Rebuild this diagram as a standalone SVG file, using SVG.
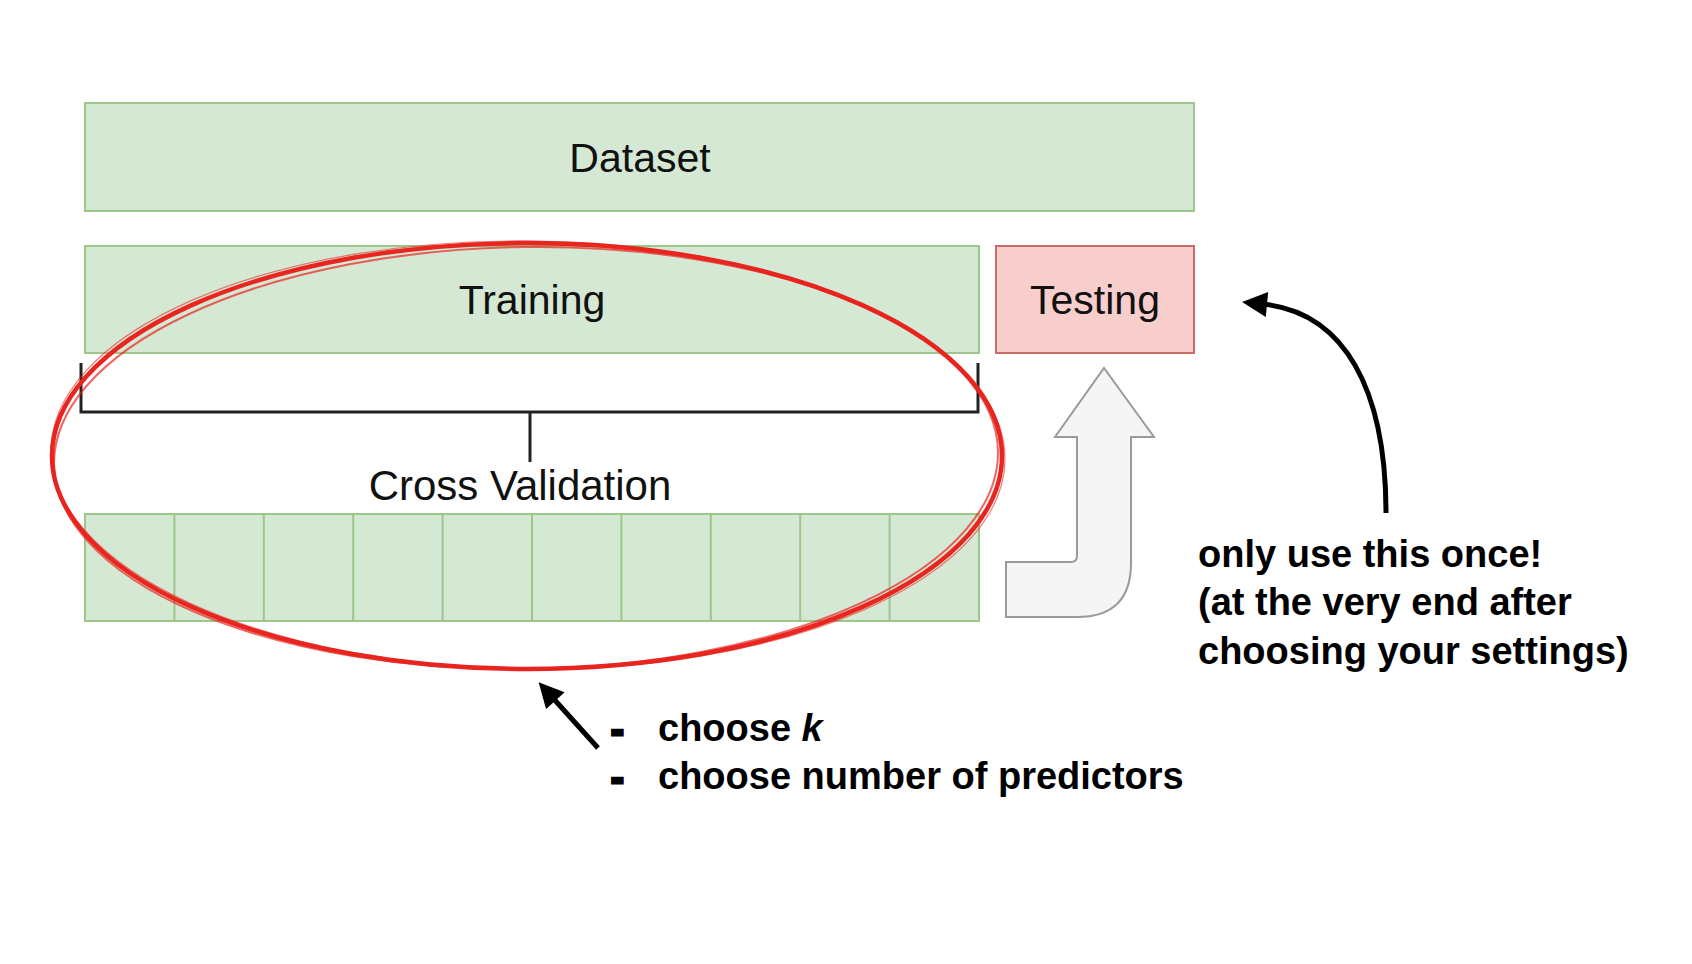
<svg xmlns="http://www.w3.org/2000/svg" width="1692" height="964" viewBox="0 0 1692 964">
<style>
.box-g{fill:#d5e8d4;stroke:#9cc68a;stroke-width:2}
.box-r{fill:#f8cecc;stroke:#c96b67;stroke-width:2}
.lbl{font-family:"Liberation Sans",Arial,sans-serif;font-size:41px;fill:#111;text-anchor:middle}
.note{font-family:"Liberation Sans",Arial,sans-serif;font-size:38px;font-weight:bold;fill:#000}
.dash{font-family:"Liberation Sans",Arial,sans-serif;font-size:38px;font-weight:bold;fill:#000;stroke:#000;stroke-width:3;stroke-linejoin:miter}
.fold{stroke:#9cc68a;stroke-width:2}
.ring{fill:none;stroke:#e8251f}
.blk{fill:none;stroke:#000;stroke-width:5;stroke-linecap:butt}
</style>
<defs>
<marker id="ah" viewBox="0 0 10 10" refX="2" refY="5" markerWidth="5.2" markerHeight="5" markerUnits="strokeWidth" orient="auto">
<path d="M0,0 L10,5 L0,10 Z" fill="#000"/>
</marker>
</defs>
<rect width="1692" height="964" fill="#fff"/>
<g id="dataset">
<rect class="box-g" x="85" y="103" width="1109" height="108"/>
<text class="lbl" x="640" y="172">Dataset</text>
</g>
<g id="training">
<rect class="box-g" x="85" y="246" width="894" height="107"/>
<text class="lbl" x="532" y="314">Training</text>
</g>
<g id="testing">
<rect class="box-r" x="996" y="246" width="198" height="107"/>
<text class="lbl" x="1095" y="314">Testing</text>
</g>
<g id="cv-label">
<text class="lbl" x="520" y="500" style="font-size:42px">Cross Validation</text>
</g>
<g id="folds">
<rect class="box-g" x="85" y="514" width="894" height="107"/>
<line class="fold" x1="174.4" y1="514" x2="174.4" y2="621"/>
<line class="fold" x1="263.8" y1="514" x2="263.8" y2="621"/>
<line class="fold" x1="353.2" y1="514" x2="353.2" y2="621"/>
<line class="fold" x1="442.6" y1="514" x2="442.6" y2="621"/>
<line class="fold" x1="532" y1="514" x2="532" y2="621"/>
<line class="fold" x1="621.4" y1="514" x2="621.4" y2="621"/>
<line class="fold" x1="710.8" y1="514" x2="710.8" y2="621"/>
<line class="fold" x1="800.2" y1="514" x2="800.2" y2="621"/>
<line class="fold" x1="889.6" y1="514" x2="889.6" y2="621"/>
</g>
<g id="bracket">
<path d="M81,363 L81,412 L978,412 L978,363 M530,412 L530,462" fill="none" stroke="#222" stroke-width="3"/>
</g>
<g id="up-arrow">
<path d="M1104,368 L1154,437 L1131,437 L1131,563 Q1131,617 1077,617 L1006,617 L1006,562 L1071,562 Q1077,562 1077,556 L1077,437 L1055,437 Z" fill="#f5f5f5" stroke="#9a9a9a" stroke-width="2"/>
</g>
<g id="red-ring">
<ellipse class="ring" cx="527" cy="456" rx="475" ry="213" stroke-width="4.5"/>
<ellipse class="ring" cx="526" cy="458" rx="472" ry="211" stroke-width="2" opacity="0.7" transform="rotate(-0.8 527 456)"/>
<ellipse class="ring" cx="528" cy="455" rx="477" ry="214" stroke-width="1.2" opacity="0.6" transform="rotate(0.6 527 456)"/>
</g>
<g id="connectors">
<path class="blk" d="M1386,513 C1386,390 1345,312 1262,304" marker-end="url(#ah)"/>
<path class="blk" d="M598,748 L552,697" marker-end="url(#ah)"/>
</g>
<g id="notes">
<text class="dash" x="611" y="743">-</text>
<text class="note" x="658" y="741">choose <tspan font-style="italic">k</tspan></text>
<text class="dash" x="611" y="791">-</text>
<text class="note" x="658" y="789">choose number of predictors</text>
<text class="note" x="1198" y="567">only use this once!</text>
<text class="note" x="1198" y="615">(at the very end after</text>
<text class="note" x="1198" y="664">choosing your settings)</text>
</g>
</svg>
